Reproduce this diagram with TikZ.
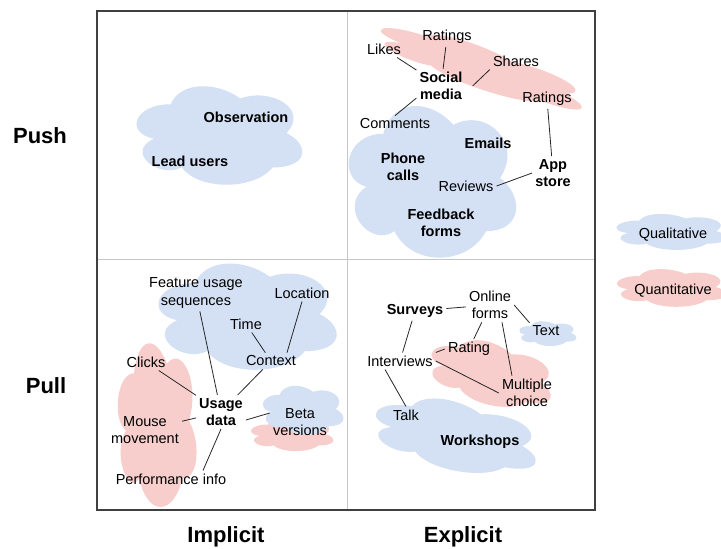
\documentclass[tikz,border=0pt]{standalone}
\usepackage{xcolor}
\usepackage{tikz}
\usepackage{fontspec}
\setmainfont{Liberation Sans}
\definecolor{qualblue}{HTML}{D4E1F5}
\definecolor{quantred}{HTML}{F8CECC}

\begin{document}
\begin{tikzpicture}[x=1pt,y=-1pt,%
% common options for the labels:
item/.style = {font=\fontsize{14.5}{17.5}\selectfont, align=center, inner sep=3pt},
topic/.style = {item, font=\fontsize{14.5}{17.5}\selectfont\bfseries},
axis/.style = {font=\fontsize{22}{26}\selectfont\bfseries, inner sep=0},
link/.style = {draw, black!85, line width=0.8pt},
% common options for the clouds:
pics/puff/.style 2 args = {code={
  \fill[pic actions] (-0.25*#1,-0.25*#2) .. controls (-0.45*#1,-0.25*#2) and (-0.5*#1,0) .. (-0.34*#1,0.05*#2)
    .. controls (-0.5*#1,0.16*#2) and (-0.32*#1,0.4*#2) .. (-0.19*#1,0.3*#2)
    .. controls (-0.1*#1,0.5*#2) and (0.2*#1,0.5*#2) .. (0.3*#1,0.3*#2)
    .. controls (0.5*#1,0.3*#2) and (0.5*#1,0.1*#2) .. (0.375*#1,0)
    .. controls (0.5*#1,-0.2*#2) and (0.3*#1,-0.4*#2) .. (0.125*#1,-0.3*#2)
    .. controls (0*#1,-0.45*#2) and (-0.2*#1,-0.45*#2) .. (-0.25*#1,-0.25*#2) -- cycle;}}]
\useasboundingbox (0,0) rectangle (721,549);
% clouds
\pic[fill=qualblue] at (217,133) {puff={185}{115}};
\pic[fill=quantred, rotate=-18] at (479,66) {puff={240}{48}};
\pic[fill=qualblue] at (430,178) {puff={187}{177}};
\pic[fill=qualblue] at (245,314) {puff={199}{124}};
\pic[fill=quantred] at (156,421) {puff={88}{191}};
\pic[fill=quantred] at (291,434) {puff={92}{38}};
\pic[fill=qualblue] at (302,409) {puff={90}{57}};
\pic[fill=quantred, rotate=-12] at (490,372) {puff={140}{72}};
\pic[fill=qualblue] at (547,333) {puff={64}{29}};
\pic[fill=qualblue, rotate=-10] at (454,434) {puff={185}{80}};
\pic[fill=qualblue] at (670,231) {puff={123}{42}};
\pic[fill=quantred] at (670,287) {puff={122}{44}};
% quadrants
\draw[gray!45, line width=0.8pt] (347,11) -- (347,510) (97,259) -- (595,259);
\draw[black!75, line width=1.2pt] (97,11) rectangle (595,510);
% axes
\node[axis] (push) at (40,136) {Push};
\node[axis] (pull) at (46,386) {Pull};
\node[axis] (implicit) at (226,537) {Implicit};
\node[axis] (explicit) at (463,537) {Explicit};
% implicit / push
\node[topic] (obs) at (246,117) {Observation};
\node[topic] (lead) at (190,161) {Lead users};
% explicit / push
\node[item] (rat1) at (447,37) {Ratings};
\node[item] (likes) at (384,49) {Likes};
\node[topic] (social) at (441,86) {Social\\media};
\node[item] (shares) at (516,61) {Shares};
\node[item] (rat2) at (547,99) {Ratings};
\node[item] (comments) at (395,124) {Comments};
\node[topic] (emails) at (488,143) {Emails};
\node[topic] (phone) at (403,167) {Phone\\calls};
\node[topic] (app) at (553,173) {App\\store};
\node[item] (reviews) at (466,186) {Reviews};
\node[topic] (feedback) at (441,223) {Feedback\\forms};
% implicit / pull
\node[item] (feature) at (196,293) {Feature usage\\sequences};
\node[item] (location) at (302,293) {Location};
\node[item] (time) at (246,324) {Time};
\node[item] (context) at (271,361) {Context};
\node[item] (clicks) at (146,362) {Clicks};
\node[topic] (usage) at (221,412) {Usage\\data};
\node[item] (beta) at (300,422) {Beta\\versions};
\node[item] (mouse) at (145,430) {Mouse\\movement};
\node[item] (perf) at (171,479) {Performance info};
% explicit / pull
\node[item] (online) at (490,305) {Online\\forms};
\node[topic] (surveys) at (415,311) {Surveys};
\node[item] (text) at (546,331) {Text};
\node[item] (rating) at (469,349) {Rating};
\node[item] (interviews) at (400,361) {Interviews};
\node[item] (multiple) at (527,393) {Multiple\\choice};
\node[item] (talk) at (406,415) {Talk};
\node[topic] (workshops) at (480,442) {Workshops};
% legend
\node[item] (qual) at (673,235) {Qualitative};
\node[item] (quant) at (673,291) {Quantitative};
% links
\draw[link] (rat1) -- (social);
\draw[link] (likes) -- (social);
\draw[link] (shares.south west) -- ([xshift=7pt]social.east);
\draw[link] (comments.north) -- ([yshift=-12pt]social.west);
\draw[link] (rat2) -- (app);
\draw[link] (reviews.east) -- (app.west);
\draw[link] (feature) -- (usage);
\draw[link] (time) -- (context);
\draw[link] (location.south) -- ([xshift=16pt]context.north);
\draw[link] (clicks) -- (usage);
\draw[link] (context) -- (usage);
\draw[link] (mouse) -- (usage);
\draw[link] ([yshift=-8pt]usage.east) -- ([yshift=9pt]beta.west);
\draw[link] (usage.south) -- ([xshift=32pt]perf.north);
\draw[link] (surveys) -- (online);
\draw[link] (online.east) -- (text.north west);
\draw[link] (online) -- (rating);
\draw[link] ([xshift=12pt]online.south) -- ([xshift=-15pt]multiple.north);
\draw[link] (surveys) -- (interviews);
\draw[link] (interviews.north east) -- (rating.west);
\draw[link] (interviews.east) -- (multiple.west);
\draw[link] ([xshift=-15pt]interviews.south) -- (talk.north);
\end{tikzpicture}
\end{document}
